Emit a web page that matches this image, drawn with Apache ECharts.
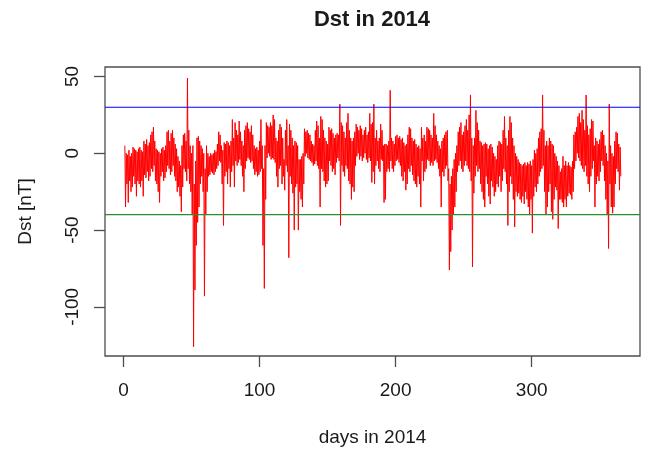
<!DOCTYPE html>
<html>
<head>
<meta charset="utf-8">
<script src="https://cdn.jsdelivr.net/npm/echarts@6/dist/echarts.min.js"></script>
<style>
html,body{margin:0;padding:0;background:#fff;}
#chart{width:645px;height:455px;}
</style>
</head>
<body>
<div id="chart"></div>
<script>
// Daily upper envelope of hourly Dst [nT], days 1..365 of 2014
var dstHigh = [
5,0,-1,2,-2,0,4,3,2,1,
3,4,2,1,8,6,9,5,7,12,
14,17,8,3,2,1,0,3,4,2,
5,14,15,8,13,15,10,6,3,-2,
-5,-8,5,12,13,8,49,15,5,0,
5,-20,-5,10,11,8,5,3,0,-10,
5,0,-2,0,-1,0,2,1,6,14,
12,5,2,7,6,8,7,5,8,22,
10,20,15,12,21,14,8,5,15,18,
20,16,14,18,12,5,3,4,2,8,
22,5,-10,5,20,18,17,20,18,25,
22,10,8,15,19,17,10,-4,15,22,
5,19,15,10,5,8,7,5,-4,-4,
-2,0,16,14,15,13,12,8,6,5,
15,21,18,10,24,22,15,10,8,6,
17,15,16,13,10,12,13,12,32,20,
18,14,10,20,26,15,10,8,10,14,
19,17,15,18,16,12,15,17,12,14,
26,19,20,32,10,15,8,10,19,15,
5,6,6,5,8,41,10,8,6,11,
12,10,11,9,10,7,5,6,12,17,
16,10,8,9,6,4,5,3,17,10,
12,8,17,16,15,12,10,26,18,12,
8,5,3,8,10,12,14,15,-10,-20,
-15,-10,-4,0,5,14,17,20,12,14,
18,22,15,25,38,10,5,10,28,20,
15,8,7,5,6,7,6,3,5,6,
4,0,-2,-4,5,8,7,6,15,24,
10,5,15,24,20,10,5,0,-2,-4,
-6,-7,-8,-7,-6,-8,-6,-7,-5,-8,
-4,2,0,3,10,14,16,38,15,5,
8,5,10,8,6,5,0,-2,-5,-8,
-12,-10,-2,-8,-5,-8,-6,-8,-9,-5,
12,14,17,24,26,20,28,22,15,38,
18,12,16,22,21,5,10,8,6,9,
14,15,12,5,0,-5,32,5,0,-2,
8,14,13,6,4
];
// Daily lower envelope of hourly Dst [nT]
var dstLow = [
-35,-20,-32,-18,-25,-22,-15,-20,-28,-18,
-20,-22,-18,-28,-14,-16,-12,-18,-15,-10,
-12,-8,-18,-20,-25,-32,-15,-12,-18,-16,
-12,-8,-10,-14,-12,-8,-15,-18,-25,-22,
-28,-38,-22,-10,-12,-18,-10,-20,-25,-40,
-126,-89,-60,-45,-35,-20,-15,-25,-93,-40,
-25,-15,-14,-12,-13,-14,-12,-10,-8,-5,
-6,-20,-47,-15,-12,-20,-10,-22,-12,-8,
-22,-5,-8,-6,-4,-8,-15,-25,-10,-5,
-3,-4,-6,-5,-10,-14,-12,-15,-14,-12,
-10,-60,-88,-30,-3,0,-2,-4,-3,-4,
-6,-15,-22,-10,-8,-20,-15,-24,-8,-12,
-68,-15,-20,-26,-50,-22,-20,-50,-25,-30,
-35,-20,-2,0,-3,-4,-5,-6,-8,-7,
-5,-8,-10,-35,-10,-12,-18,-22,-20,-18,
-5,-8,-12,-10,-14,-6,-3,-5,-47,-8,
-12,-15,-8,-10,-18,-20,-30,-22,-25,-8,
-2,0,-4,-2,-5,-3,0,-4,-6,-3,
-5,-19,-12,-20,-8,-5,-10,-12,-4,-5,
-32,-30,-12,-10,-12,-5,-10,-12,-8,-5,
-4,-6,-8,-15,-18,-12,-24,-20,-10,-12,
-8,-14,-18,-20,-22,-15,-20,-35,-5,-18,
-12,-10,-4,-5,-8,-6,-8,-5,-4,-6,
-10,-15,-35,-12,-15,-10,-8,-18,-76,-64,
-50,-40,-35,-25,-12,-8,-5,-10,-12,-8,
-5,-8,-10,-12,-18,-74,-26,-15,-8,-12,
-10,-20,-25,-30,-35,-15,-20,-28,-33,-18,
-22,-28,-25,-20,-22,-15,-25,-18,-10,-12,
-20,-47,-25,-15,-20,-30,-48,-25,-28,-26,
-30,-32,-28,-33,-25,-30,-35,-40,-30,-52,
-28,-22,-25,-20,-15,-12,-10,-8,-25,-40,
-35,-25,-20,-38,-43,-30,-22,-24,-49,-30,
-30,-32,-35,-30,-35,-28,-26,-27,-30,-25,
-10,-5,0,-3,-5,-8,-10,-12,-8,-15,
-20,-25,-15,-10,-5,-35,-20,-15,-18,-12,
-5,-8,-18,-30,-40,-62,-20,-35,-39,-35,
-20,-10,-12,-24,-15
];
var xTicks = [0, 100, 200, 300];
var yTicks = [-100, -50, 0, 50];
var upperLimit = 30;
var lowerLimit = -40;

var X_MIN = -13.6, X_MAX = 379.6;

var seriesData = [];
for (var i = 0; i < dstHigh.length; i++) {
  var day = i + 1;
  seriesData.push([day, dstHigh[i]]);
  seriesData.push([day + 0.5, dstLow[i]]);
}

var FONT = "'Liberation Sans', Arial, sans-serif";
var chart = echarts.init(document.getElementById('chart'), null, {renderer: 'canvas'});
chart.setOption({
  animation: false,
  backgroundColor: '#ffffff',
  title: {
    text: 'Dst in 2014',
    left: 372, top: 9, padding: 0,
    textAlign: 'center',
    textStyle: {fontFamily: FONT, fontSize: 22, fontWeight: 'bold', color: '#1a1a1a'}
  },
  grid: {
    left: 105, right: 5, top: 67, bottom: 99,
    show: true, borderColor: '#4d4d4d', borderWidth: 1.3, backgroundColor: 'transparent'
  },
  xAxis: {
    type: 'value', min: X_MIN, max: X_MAX,
    axisLine: {show: false, onZero: false},
    splitLine: {show: false},
    axisTick: {show: true, inside: false, customValues: xTicks, length: 11, lineStyle: {color: '#4d4d4d', width: 1.3}},
    axisLabel: {customValues: xTicks, fontFamily: FONT, fontSize: 19, color: '#1a1a1a', margin: 25},
    name: 'days in 2014', nameLocation: 'middle', nameGap: 72,
    nameTextStyle: {fontFamily: FONT, fontSize: 19, color: '#1a1a1a'}
  },
  yAxis: {
    type: 'value', min: -132, max: 56.2,
    axisLine: {show: false, onZero: false},
    splitLine: {show: false},
    axisTick: {show: true, inside: false, customValues: yTicks, length: 11, lineStyle: {color: '#4d4d4d', width: 1.3}},
    axisLabel: {customValues: yTicks, rotate: 90, fontFamily: FONT, fontSize: 19, color: '#1a1a1a', margin: 23},
    name: 'Dst [nT]', nameLocation: 'middle', nameGap: 70, nameRotate: 90,
    nameTextStyle: {fontFamily: FONT, fontSize: 19, color: '#1a1a1a'}
  },
  series: [{
    type: 'line',
    data: seriesData,
    showSymbol: false,
    symbol: 'none',
    sampling: null,
    clip: true,
    z: 2,
    lineStyle: {color: '#ff0000', width: 1}
  }, {
    type: 'line',
    data: [[X_MIN, upperLimit], [X_MAX, upperLimit]],
    showSymbol: false, symbol: 'none', silent: true, z: 3,
    lineStyle: {color: '#0000ff', width: 1.2}
  }, {
    type: 'line',
    data: [[X_MIN, lowerLimit], [X_MAX, lowerLimit]],
    showSymbol: false, symbol: 'none', silent: true, z: 3,
    lineStyle: {color: '#2e8b2e', width: 1.2}
  }]
});
</script>
</body>
</html>
